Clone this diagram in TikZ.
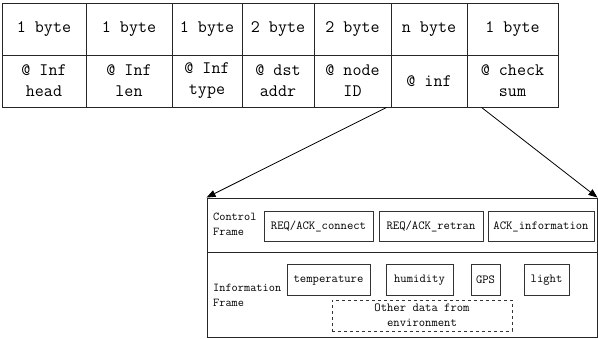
\documentclass[tikz,border=0pt]{standalone}
\usepackage{fontspec}
\usetikzlibrary{arrows.meta}
\begin{document}
\begin{tikzpicture}[x=1pt,y=-1pt,
  line/.style={draw=black!85,line width=0.9pt},
  cell/.style={line,rectangle,inner sep=0pt,minimum height=52pt,align=center,
    font=\fontsize{17.5}{21}\ttfamily},
  frow/.style={line,rectangle,inner sep=0pt,minimum width=390pt},
  item/.style={draw=black!80,line width=0.7pt,rectangle,inner sep=0pt,minimum height=30.5pt,
    font=\fontsize{12.3}{15}\ttfamily,align=center},
  lab/.style={inner sep=0pt,anchor=west,align=left,font=\fontsize{12}{15}\ttfamily},
  arr/.style={draw=black,line width=0.8pt,-{Triangle[length=9pt,width=7pt]}}]
\useasboundingbox (0,0) rectangle (598,339);
% top table
\node[cell,minimum width=84pt] (a1) at (44,29) {1 byte};
\node[cell,minimum width=86pt] (a2) at (129,29) {1 byte};
\node[cell,minimum width=70pt] (a3) at (207,29) {1 byte};
\node[cell,minimum width=72pt] (a4) at (278,29) {2 byte};
\node[cell,minimum width=77pt] (a5) at (352.5,29) {2 byte};
\node[cell,minimum width=76pt] (a6) at (429,29) {n byte};
\node[cell,minimum width=91pt] (a7) at (512.5,29) {1 byte};
\node[cell,minimum width=84pt] (b1) at (44,81) {@ Inf\\head};
\node[cell,minimum width=86pt] (b2) at (129,81) {@ Inf\\len};
\node[cell,minimum width=70pt] (b3) at (207,81) {@ Inf\\type};
\node[cell,minimum width=72pt] (b4) at (278,81) {@ dst\\addr};
\node[cell,minimum width=77pt] (b5) at (352.5,81) {@ node\\ID};
\node[cell,minimum width=76pt] (b6) at (429,81) {@ inf};
\node[cell,minimum width=91pt] (b7) at (512.5,81) {@ check\\sum};
% bottom frame
\node[frow,minimum height=54pt] (ctrl) at (402,225) {};
\node[frow,minimum height=85pt] (info) at (402,294.5) {};
\node[lab] (cl) at (213,224.5) {Control\\Frame};
\node[lab] (il) at (213,295.5) {Information\\Frame};
\node[item,minimum width=109pt] (c1) at (318.5,226.5) {REQ/ACK\_connect};
\node[item,minimum width=104pt] (c2) at (431,226.5) {REQ/ACK\_retran};
\node[item,minimum width=106pt] (c3) at (541,226.5) {ACK\_information};
\node[item,minimum width=83pt] (i1) at (328.5,280) {temperature};
\node[item,minimum width=67pt] (i2) at (419.5,280) {humidity};
\node[item,minimum width=29pt] (i3) at (485.5,280) {GPS};
\node[item,minimum width=45pt] (i4) at (546.5,280) {light};
\node[item,dashed,minimum width=180pt,minimum height=31pt] (i5) at (422,315.5) {Other data from\\environment};
% arrows
\coordinate (s1) at ([xshift=-4pt]b6.south west);
\coordinate (s2) at ([xshift=15pt]b7.south west);
\draw[arr] (s1) -- (ctrl.north west);
\draw[arr] (s2) -- (ctrl.north east);
\end{tikzpicture}
\end{document}
